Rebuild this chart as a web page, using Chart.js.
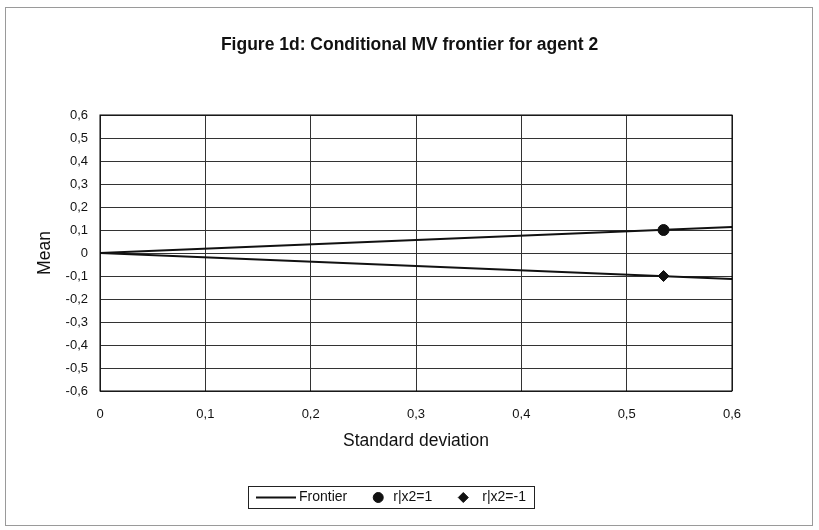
<!DOCTYPE html>
<html>
<head>
<meta charset="utf-8">
<script src="https://cdn.jsdelivr.net/npm/chart.js@4"></script>
<style>
  html, body { margin: 0; padding: 0; background: #fff; }
  #wrap { width: 819px; height: 530px; }
</style>
</head>
<body>
<div id="wrap"><canvas id="mvChart" width="819" height="530"></canvas></div>
<script>
// values
const frontierSd = [0.6, 0, 0.6];
const frontierMean = [0.113, 0, -0.113];
const posSd = [0.535];
const posMean = [0.1];
const negSd = [0.535];
const negMean = [-0.1];
const seriesLabels = ['Frontier', 'r|x2=1', 'r|x2=-1'];

const toPts = (xs, ys) => xs.map((x, i) => ({ x: x, y: ys[i] }));
const fmt = v => {
    const r = Math.round(v * 10) / 10;
    return r === 0 ? '0' : r.toFixed(1).replace('.', ',');
};

const FONT = '"Liberation Sans", Arial, sans-serif';

const framePlugin = {
    id: 'frame',
    beforeDraw(chart) {
        const ctx = chart.ctx;
        ctx.save();
        ctx.fillStyle = '#fff';
        ctx.fillRect(0, 0, chart.width, chart.height);
        ctx.strokeStyle = '#9a9a9a';
        ctx.lineWidth = 1;
        ctx.strokeRect(5.5, 7.5, 807, 518);
        ctx.restore();
    },
    afterDraw(chart) {
        const ctx = chart.ctx;
        const a = chart.chartArea;
        ctx.save();
        ctx.strokeStyle = '#000';
        ctx.lineWidth = 1;
        ctx.strokeRect(a.left, a.top, a.right - a.left, a.bottom - a.top);

        // legend box, drawn from the datasets' own styles
        const ds = chart.data.datasets;
        ctx.font = '14px ' + FONT;
        const lineLen = 40, markW = 10, itemGap = 26;
        const gaps = [3, 10, 14];
        const widths = ds.map((d, i) => (i === 0 ? lineLen : markW) + gaps[i] + ctx.measureText(d.label).width);
        const total = widths.reduce((s, w) => s + w, 0) + itemGap * (ds.length - 1) + 16;
        const cx = 391;
        const top = a.bottom + 95, h = 22;
        const left = Math.round(cx - total / 2);
        ctx.strokeStyle = '#222';
        ctx.strokeRect(left + 0.5, top + 0.5, Math.round(total), h);
        const my = top + h / 2 + 0.5;
        let x = left + 8;
        ds.forEach((d, i) => {
            if (i === 0) {
                ctx.strokeStyle = d.borderColor;
                ctx.lineWidth = d.borderWidth;
                ctx.beginPath();
                ctx.moveTo(x, my);
                ctx.lineTo(x + lineLen, my);
                ctx.stroke();
                x += lineLen;
            } else {
                ctx.fillStyle = d.backgroundColor;
                ctx.strokeStyle = d.borderColor;
                ctx.lineWidth = 1;
                Chart.helpers.drawPoint(ctx, { pointStyle: d.pointStyle, radius: 5, borderWidth: 1 }, x + markW / 2, my);
                x += markW;
            }
            x += gaps[i];
            ctx.fillStyle = '#111';
            ctx.textBaseline = 'middle';
            ctx.textAlign = 'left';
            ctx.fillText(d.label, x, my);
            x += ctx.measureText(d.label).width + itemGap;
        });
        ctx.restore();
    }
};

new Chart(document.getElementById('mvChart').getContext('2d'), {
    type: 'scatter',
    data: {
        datasets: [{
            label: seriesLabels[0],
            data: toPts(frontierSd, frontierMean),
            showLine: true,
            borderColor: '#111',
            borderWidth: 2,
            pointRadius: 0,
            pointStyle: 'line',
            tension: 0
        }, {
            label: seriesLabels[1],
            data: toPts(posSd, posMean),
            backgroundColor: '#111',
            borderColor: '#111',
            pointStyle: 'circle',
            pointRadius: 5.5
        }, {
            label: seriesLabels[2],
            data: toPts(negSd, negMean),
            backgroundColor: '#111',
            borderColor: '#111',
            pointStyle: 'rectRot',
            pointRadius: 5.5
        }]
    },
    options: {
        responsive: false,
        animation: false,
        layout: { padding: { top: 35, right: 0, bottom: 78, left: 0 } },
        plugins: {
            title: {
                display: true,
                text: 'Figure 1d: Conditional MV frontier for agent 2',
                color: '#111',
                font: { family: FONT, size: 17.5, weight: 'bold' },
                padding: { top: 0, bottom: 59 }
            },
            legend: { display: false },
            tooltip: { enabled: false }
        },
        scales: {
            x: {
                type: 'linear',
                min: 0,
                max: 0.6,
                ticks: {
                    stepSize: 0.1,
                    callback: v => fmt(v),
                    color: '#111',
                    font: { family: FONT, size: 13 },
                    padding: 16
                },
                grid: { color: '#333', lineWidth: 1, drawTicks: false },
                border: { display: false },
                title: {
                    display: true,
                    text: 'Standard deviation',
                    color: '#111',
                    font: { family: FONT, size: 17.5 },
                    padding: { top: 6, bottom: 0 }
                },
                afterFit: s => { s.height = 61; }
            },
            y: {
                type: 'linear',
                min: -0.6,
                max: 0.6,
                ticks: {
                    stepSize: 0.1,
                    callback: v => fmt(v),
                    color: '#111',
                    font: { family: FONT, size: 13 },
                    padding: 12
                },
                grid: { color: '#333', lineWidth: 1, drawTicks: false },
                border: { display: false },
                title: {
                    display: true,
                    text: 'Mean',
                    color: '#111',
                    font: { family: FONT, size: 17.5 },
                    padding: { top: 35, bottom: 0 }
                },
                afterFit: s => { s.width = 100; }
            },
            yRight: {
                type: 'linear',
                position: 'right',
                min: -0.6,
                max: 0.6,
                ticks: { display: false },
                grid: { display: false },
                border: { display: false },
                afterFit: s => { s.width = 87; }
            }
        }
    },
    plugins: [framePlugin]
});
</script>
</body>
</html>
